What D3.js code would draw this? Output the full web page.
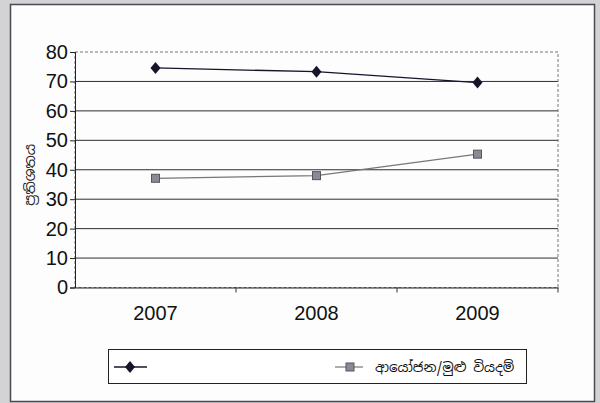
<!DOCTYPE html>
<html lang="si">
	<head>
		<meta charset="utf-8">
		<title>ප්‍රතිශතය</title>
		<script type="text/javascript" src="https://cdnjs.cloudflare.com/ajax/libs/d3/7.8.5/d3.min.js"></script>
		<style type="text/css">
			body { margin: 0; background: #d3d3d6; }
		</style>
	</head>
	<body>
		<script type="text/javascript">

			var w = 600;
			var h = 403;

			var years = ['2007', '2008', '2009'];
			var seriesA = [74.6, 73.3, 69.6];
			var seriesB = [37.1, 38.0, 45.3];
			var seriesBName = 'ආයෝජන/මුළු වියදම්';
			var yTicks = [0, 10, 20, 30, 40, 50, 60, 70, 80];
			var yLabel = 'ප්‍රතිශතය';

			var plot = {left: 75, right: 558, top: 52, bottom: 287.5};

			var xScale = d3.scaleBand()
							.domain(years)
							.range([plot.left, plot.right]);

			var yScale = d3.scaleLinear()
							.domain([0, 80])
							.range([plot.bottom, plot.top]);

			var svg = d3.select('body')
							.append('svg')
							.attr('width', w)
							.attr('height', h)
							.style('display', 'block');

			// scanned page panel
			svg.append('rect')
				.attr('x', 10.5).attr('y', 4.5)
				.attr('width', 584).attr('height', 397)
				.attr('fill', '#fdfdfd')
				.attr('stroke', '#4a4a55')
				.attr('stroke-width', 1.5);

			// gridlines
			svg.append('g')
				.selectAll('line')
				.data(yTicks.filter(d => d > 0 && d < 80))
				.enter()
				.append('line')
				.attr('x1', plot.left).attr('x2', plot.right)
				.attr('y1', d => yScale(d)).attr('y2', d => yScale(d))
				.attr('stroke', '#2e2e2e')
				.attr('stroke-width', 1);

			// plot border (dashed)
			svg.append('rect')
				.attr('x', plot.left).attr('y', plot.top)
				.attr('width', plot.right - plot.left)
				.attr('height', plot.bottom - plot.top)
				.attr('fill', 'none')
				.attr('stroke', '#777')
				.attr('stroke-dasharray', '3,2')
				.attr('stroke-width', 1);

			var yAxis = g => g
							.attr('transform', `translate(${plot.left},0)`)
							.call(d3.axisLeft(yScale).tickValues(yTicks).tickSize(5).tickPadding(2))
							.call(g => g.selectAll('text')
								.attr('font-family', "'Liberation Sans', Arial, sans-serif")
								.attr('font-size', 20)
								.attr('fill', '#111'))
							.call(g => g.selectAll('line,path').attr('stroke', '#222'));

			var xAxis = g => g
							.attr('transform', `translate(0,${plot.bottom})`)
							.call(d3.axisBottom(xScale).tickSize(0).tickPadding(18))
							.call(g => g.selectAll('text')
								.attr('font-family', "'Liberation Sans', Arial, sans-serif")
								.attr('font-size', 20)
								.attr('fill', '#111'))
							.call(g => g.select('.domain').attr('stroke', '#222'));

			svg.append('g').call(xAxis);
			svg.append('g').call(yAxis);

			// x ticks at band boundaries
			svg.append('g')
				.selectAll('line')
				.data(years)
				.enter()
				.append('line')
				.attr('x1', d => xScale(d) + xScale.bandwidth())
				.attr('x2', d => xScale(d) + xScale.bandwidth())
				.attr('y1', plot.bottom).attr('y2', plot.bottom + 5)
				.attr('stroke', '#333');

			svg.append('text')
				.attr('transform', `translate(35,${(plot.top + plot.bottom) / 2 + 5}) rotate(-90)`)
				.attr('text-anchor', 'middle')
				.attr('font-family', 'Noto Sans Sinhala, Noto Sans, sans-serif')
				.attr('font-size', 14)
				.attr('fill', '#222')
				.text(yLabel);

			var cx = d => xScale(d) + xScale.bandwidth() / 2;

			var line = d3.line()
							.x((d, i) => cx(years[i]))
							.y(d => yScale(d));

			svg.append('path')
				.datum(seriesB)
				.attr('d', line)
				.attr('fill', 'none')
				.attr('stroke', '#777')
				.attr('stroke-width', 1.2);

			svg.append('path')
				.datum(seriesA)
				.attr('d', line)
				.attr('fill', 'none')
				.attr('stroke', '#14142a')
				.attr('stroke-width', 1.3);

			var diamond = 'M0,-6L5,0L0,6L-5,0Z';

			svg.append('g')
				.selectAll('path')
				.data(seriesA)
				.enter()
				.append('path')
				.attr('d', diamond)
				.attr('transform', (d, i) => `translate(${cx(years[i])},${yScale(d)})`)
				.attr('fill', '#14142a');

			svg.append('g')
				.selectAll('rect')
				.data(seriesB)
				.enter()
				.append('rect')
				.attr('x', (d, i) => cx(years[i]) - 4)
				.attr('y', d => yScale(d) - 4)
				.attr('width', 8).attr('height', 8)
				.attr('fill', '#8a8a96')
				.attr('stroke', '#55555f')
				.attr('stroke-width', 1);

			// legend
			var lg = svg.append('g');
			lg.append('rect')
				.attr('x', 108.5).attr('y', 349.5)
				.attr('width', 418).attr('height', 34)
				.attr('fill', '#fff')
				.attr('stroke', '#222')
				.attr('stroke-width', 1);

			lg.append('line')
				.attr('x1', 114).attr('x2', 147).attr('y1', 367).attr('y2', 367)
				.attr('stroke', '#14142a').attr('stroke-width', 1.3);
			lg.append('path')
				.attr('d', diamond)
				.attr('transform', 'translate(130,367)')
				.attr('fill', '#14142a');

			lg.append('line')
				.attr('x1', 335).attr('x2', 363).attr('y1', 367).attr('y2', 367)
				.attr('stroke', '#777').attr('stroke-width', 1.2);
			lg.append('rect')
				.attr('x', 346).attr('y', 363).attr('width', 8).attr('height', 8)
				.attr('fill', '#8a8a96').attr('stroke', '#55555f');
			lg.append('text')
				.attr('x', 375).attr('y', 372)
				.attr('font-family', 'Noto Sans Sinhala, Noto Sans, sans-serif')
				.attr('font-size', 13.5)
				.attr('fill', '#111')
				.text(seriesBName);
		</script>
	</body>
</html>
